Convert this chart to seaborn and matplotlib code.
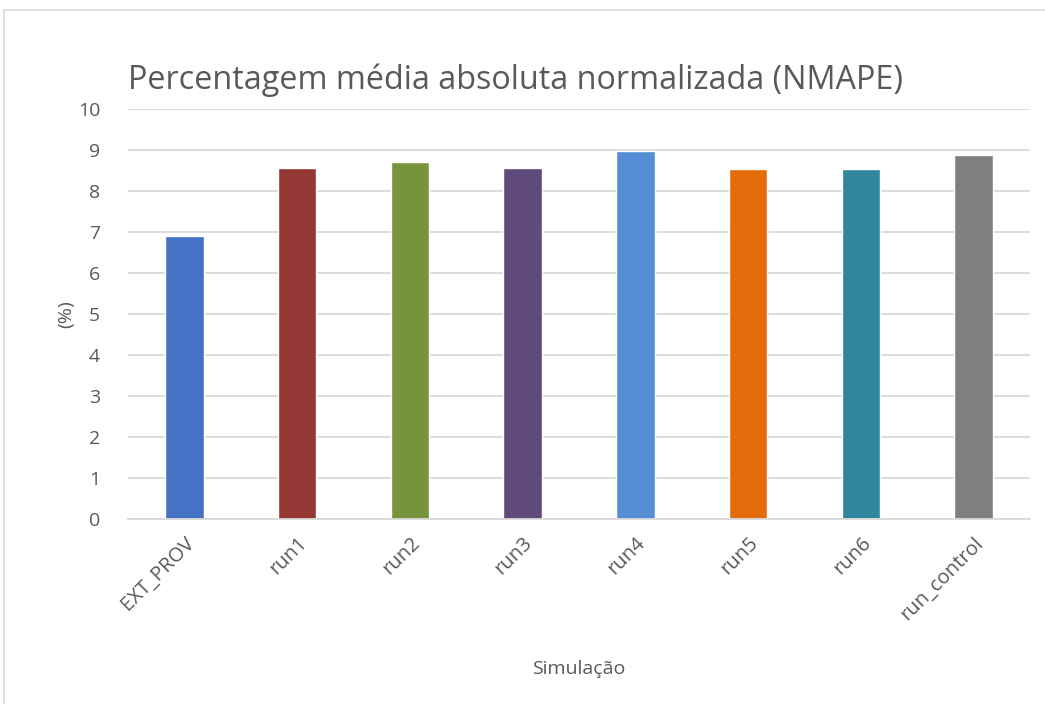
import matplotlib
matplotlib.use("Agg")
import matplotlib.pyplot as plt
import seaborn as sns
import pandas as pd
from matplotlib.patches import Rectangle

# valores
simulacoes = ["EXT_PROV", "run1", "run2", "run3", "run4", "run5", "run6", "run_control"]
nmape = [6.90, 8.57, 8.71, 8.55, 8.98, 8.53, 8.53, 8.89]
cores = ["#4472C4", "#953735", "#77933C", "#604A7B", "#558ED5", "#E46C0A", "#31859C", "#7F7F7F"]

df = pd.DataFrame({"Simulação": simulacoes, "NMAPE": nmape})

sns.set_style("white")
plt.rcParams["font.family"] = ["Open Sans", "DejaVu Sans"]
cinza = "#595959"

fig = plt.figure(figsize=(10.45, 7.04), dpi=100)
ax = fig.add_axes([128 / 1045, 1 - 519 / 704, 902 / 1045, 410 / 704])

sns.barplot(data=df, x="Simulação", y="NMAPE", hue="Simulação", palette=cores,
            legend=False, width=0.34, saturation=1, ax=ax)

ax.set_ylim(0, 10)
ax.set_xlim(-0.5, len(simulacoes) - 0.5)
ax.set_yticks(range(0, 11))
ax.yaxis.grid(True, color="#d9d9d9", linewidth=1.3)
ax.set_axisbelow(True)
for s in ["top", "right", "left"]:
    ax.spines[s].set_visible(False)
ax.spines["bottom"].set_color("#d9d9d9")
ax.spines["bottom"].set_linewidth(1.3)
ax.tick_params(axis="y", length=0, labelsize=14, colors=cinza, pad=20)
ax.tick_params(axis="x", length=0, labelsize=14.5, colors=cinza, pad=10)
plt.setp(ax.get_xticklabels(), rotation=45, ha="right", rotation_mode="anchor")

ax.set_xlabel("Simulação", fontsize=14, color=cinza, labelpad=26)
ax.set_ylabel("(%)", fontsize=14, color=cinza, labelpad=2)
fig.text(128 / 1045, 1 - 80 / 704, "Percentagem média absoluta normalizada (NMAPE)",
         fontsize=23.3, color=cinza, va="center", ha="left")

# moldura da área do gráfico
fig.patches.append(Rectangle((4 / 1045, -0.01), 1.02, 1 - 10 / 704 + 0.01,
                             transform=fig.transFigure, fill=False,
                             edgecolor="#d9d9d9", linewidth=1.2))

fig.savefig("out.png", dpi=100)
